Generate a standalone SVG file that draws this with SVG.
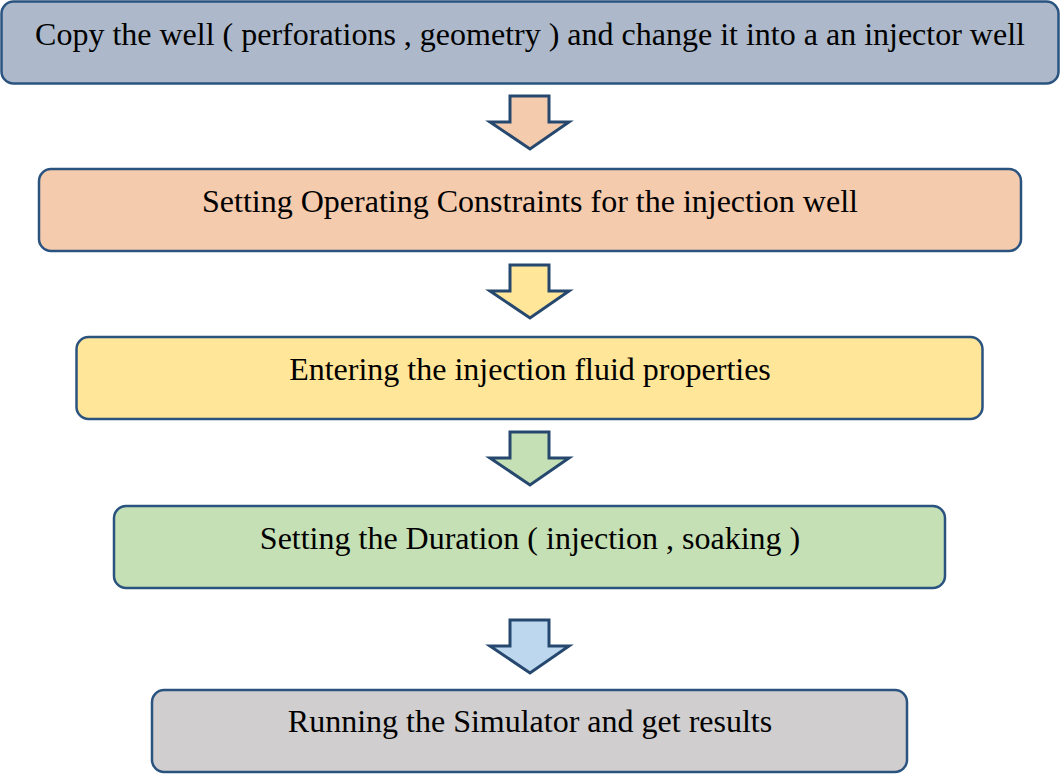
<svg xmlns="http://www.w3.org/2000/svg" width="1060" height="774" viewBox="0 0 1060 774">
  <style>
    .box { stroke: #2b5380; stroke-width: 2.5; }
    .arrow { stroke: #26486e; stroke-width: 3; stroke-linejoin: miter; }
    .label { font-family: "Liberation Serif", "Times New Roman", serif; font-size: 32px; fill: #000; text-anchor: middle; }
  </style>
  <rect width="1060" height="774" fill="#ffffff"/>

  <g id="step-copy-well">
    <rect class="box" x="1.5" y="1.5" width="1057" height="82" rx="12" fill="#adb9ca"/>
    <text class="label" x="530" y="45">Copy the well ( perforations , geometry ) and change it into a an injector well</text>
  </g>

  <g id="step-constraints">
    <rect class="box" x="39" y="169" width="982" height="82" rx="12" fill="#f5cbad"/>
    <text class="label" x="530" y="212">Setting Operating Constraints for the injection well</text>
  </g>

  <g id="step-fluid">
    <rect class="box" x="76.5" y="337" width="906" height="82" rx="12" fill="#ffe699"/>
    <text class="label" x="530" y="380">Entering the injection fluid properties</text>
  </g>

  <g id="step-duration">
    <rect class="box" x="114" y="506" width="831" height="82" rx="12" fill="#c5e0b4"/>
    <text class="label" x="530" y="549">Setting the Duration ( injection , soaking )</text>
  </g>

  <g id="step-run">
    <rect class="box" x="152" y="690" width="755" height="82" rx="12" fill="#d0cece"/>
    <text class="label" x="530" y="732">Running the Simulator and get results</text>
  </g>

  <!-- block arrows between the steps -->
  <g id="connectors">
    <path class="arrow" fill="#f5cbad" d="M510,96 H549 V122 H569 L530,149 L490,122 H510 Z"/>
    <path class="arrow" fill="#ffe699" d="M510,265 H549 V291 H569 L530,318 L490,291 H510 Z"/>
    <path class="arrow" fill="#c5e0b4" d="M510,432 H549 V458 H569 L530,485 L490,458 H510 Z"/>
    <path class="arrow" fill="#bdd7ee" d="M510,620 H549 V646 H569 L530,673 L490,646 H510 Z"/>
  </g>
</svg>
